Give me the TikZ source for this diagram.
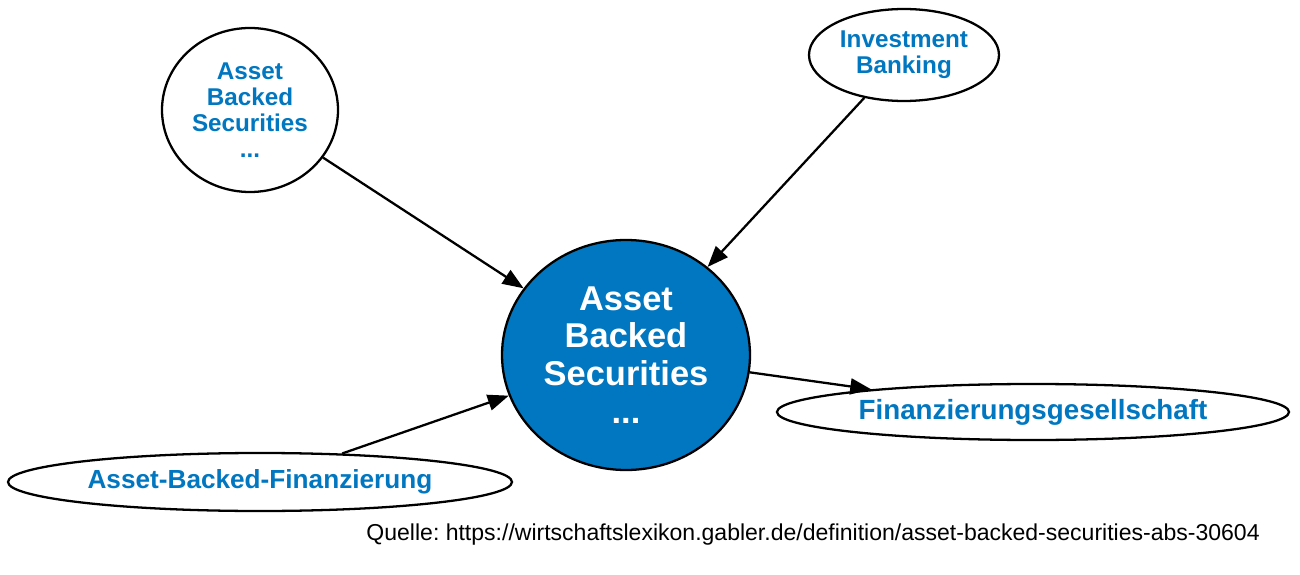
\documentclass[tikz,border=0pt]{standalone}
\usepackage{fontspec}
\setmainfont{Liberation Sans}
\usetikzlibrary{shapes.geometric,arrows.meta}
\definecolor{gablerblau}{RGB}{0,119,192}
\frenchspacing

\begin{document}
\begin{tikzpicture}[font=\bfseries,
  begriff/.style={ellipse, draw=black, line width=1.3pt, fill=white, inner sep=0pt,
    text=gablerblau, align=center},
  haupt/.style={ellipse, draw=black, line width=1.3pt, fill=gablerblau, inner sep=0pt,
    text=white, align=center, font=\bfseries\fontsize{19.6}{21.5}\selectfont},
  pfeil/.style={line width=1.3pt, -{Triangle[length=0.42cm,width=0.32cm]}}]

\useasboundingbox (0,0) rectangle (26,11.48);

% Knoten
\node[haupt, minimum width=4.96cm, minimum height=4.6cm] (abs) at (12.52,4.38)
  {Asset\\Backed\\Securities\\...};
\node[begriff, minimum width=3.52cm, minimum height=3.28cm,
  font=\bfseries\fontsize{13.8}{14.7}\selectfont] (abs2) at (5.0,9.28)
  {Asset\\Backed\\Securities\\...};
\node[begriff, minimum width=3.8cm, minimum height=1.84cm,
  font=\bfseries\fontsize{13.8}{14.7}\selectfont] (ib) at (18.08,10.38)
  {Investment\\Banking};
\node[begriff, minimum width=10.24cm, minimum height=1.12cm,
  font=\bfseries\fontsize{15.8}{17}\selectfont] (fg) at (20.66,3.24)
  {Finanzierungsgesellschaft};
\node[begriff, minimum width=10.08cm, minimum height=1.16cm,
  font=\bfseries\fontsize{14.9}{17}\selectfont] (abf) at (5.2,1.84)
  {Asset-Backed-Finanzierung};

% Kanten
\draw[pfeil] (abs2) -- (abs);
\draw[pfeil] (ib) -- (abs);
\draw[pfeil] (abs) -- (fg);
\draw[pfeil] (abf) -- (abs);

\node[anchor=east, inner sep=0pt, font=\fontsize{13.1}{15}\selectfont] (quelle) at (25.2,0.78)
  {Quelle: https://wirtschaftslexikon.gabler.de/definition/asset-backed-securities-abs-30604};

\end{tikzpicture}
\end{document}
